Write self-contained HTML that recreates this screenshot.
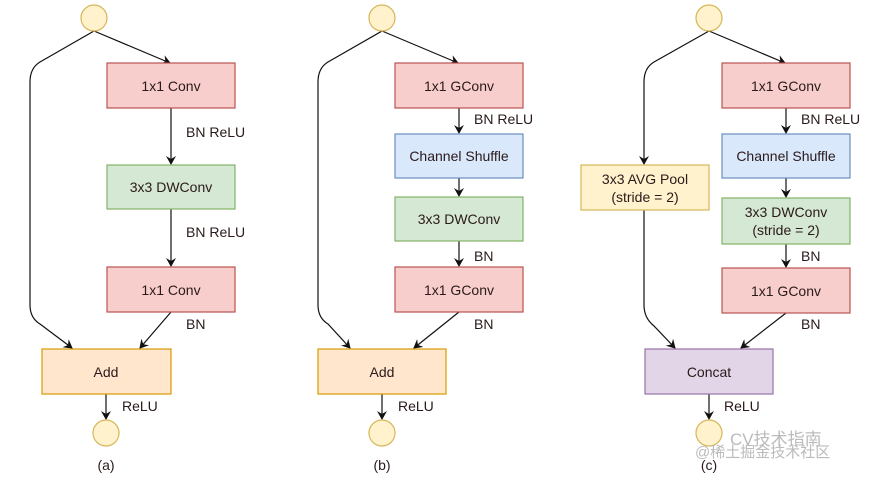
<!DOCTYPE html>
<html><head><meta charset="utf-8"><style>
html,body{margin:0;padding:0;background:#fff;width:871px;height:477px;overflow:hidden}
text{font-family:"Liberation Sans","Noto Sans CJK SC",sans-serif;font-size:14px;fill:#2a1a1a}
</style></head><body>
<svg width="871" height="477" viewBox="0 0 871 477" xmlns="http://www.w3.org/2000/svg">
<defs><marker id="ar" markerWidth="10" markerHeight="10" refX="8" refY="5" orient="auto" markerUnits="userSpaceOnUse"><path d="M0,0 L9,5 L0,10 L3,5 z" fill="#111"/></marker></defs>
<g stroke="#111" stroke-width="1.2" fill="none" marker-end="url(#ar)">
<!-- a -->
<path d="M94,31 L170,63"/>
<path d="M94,31 L40,62 Q30,68 30,82 L30,305 Q30,318 40,324 L72,348"/>
<path d="M171,108 L171,164"/>
<path d="M171,209 L171,266"/>
<path d="M171,312 L140,348"/>
<path d="M106,394 L106,419"/>
<!-- b -->
<path d="M382,31 L458,63"/>
<path d="M382,31 L328,62 Q318,68 318,82 L318,305 Q318,318 328,324 L350,348"/>
<path d="M459,108 L459,133"/>
<path d="M459,178 L459,196"/>
<path d="M459,241 L459,266"/>
<path d="M459,312 L414,348"/>
<path d="M382,394 L382,419"/>
<!-- c -->
<path d="M709,31 L785,63"/>
<path d="M709,31 L654,62 Q644,68 644,82 L644,164"/>
<path d="M644,210 L644,305 Q644,318 654,326 L675,348"/>
<path d="M786,108 L786,133"/>
<path d="M786,178 L786,197"/>
<path d="M786,244 L786,267"/>
<path d="M786,313 L741,348"/>
<path d="M709,394 L709,419"/>
</g>
<g stroke-width="1.2">
<circle cx="94" cy="18" r="13" fill="#fff2cc" stroke="#d6b656"/>
<circle cx="106" cy="433" r="13" fill="#fff2cc" stroke="#d6b656"/>
<circle cx="382" cy="18" r="13" fill="#fff2cc" stroke="#d6b656"/>
<circle cx="382" cy="433" r="13" fill="#fff2cc" stroke="#d6b656"/>
<circle cx="709" cy="18" r="13" fill="#fff2cc" stroke="#d6b656"/>
<circle cx="709" cy="433" r="13" fill="#fff2cc" stroke="#d6b656"/>
<rect x="107" y="63" width="128" height="45" fill="#f8cecc" stroke="#b85450"/>
<rect x="107" y="165" width="128" height="44" fill="#d5e8d4" stroke="#82b366"/>
<rect x="107" y="267" width="128" height="45" fill="#f8cecc" stroke="#b85450"/>
<rect x="42" y="349" width="129" height="45" fill="#ffe6cc" stroke="#d79b00"/>
<rect x="395" y="63" width="128" height="45" fill="#f8cecc" stroke="#b85450"/>
<rect x="395" y="134" width="128" height="44" fill="#dae8fc" stroke="#6c8ebf"/>
<rect x="395" y="197" width="128" height="44" fill="#d5e8d4" stroke="#82b366"/>
<rect x="395" y="267" width="128" height="45" fill="#f8cecc" stroke="#b85450"/>
<rect x="318" y="349" width="128" height="45" fill="#ffe6cc" stroke="#d79b00"/>
<rect x="722" y="63" width="128" height="45" fill="#f8cecc" stroke="#b85450"/>
<rect x="722" y="134" width="128" height="44" fill="#dae8fc" stroke="#6c8ebf"/>
<rect x="722" y="198" width="128" height="46" fill="#d5e8d4" stroke="#82b366"/>
<rect x="722" y="268" width="128" height="45" fill="#f8cecc" stroke="#b85450"/>
<rect x="581" y="165" width="128" height="45" fill="#fff2cc" stroke="#d6b656"/>
<rect x="645" y="349" width="128" height="45" fill="#e1d5e7" stroke="#9673a6"/>
</g>
<g text-anchor="middle">
<text x="171" y="91">1x1 Conv</text>
<text x="171" y="192">3x3 DWConv</text>
<text x="171" y="295">1x1 Conv</text>
<text x="106" y="377">Add</text>
<text x="106" y="470">(a)</text>
<text x="459" y="91">1x1 GConv</text>
<text x="459" y="161">Channel Shuffle</text>
<text x="459" y="224">3x3 DWConv</text>
<text x="459" y="295">1x1 GConv</text>
<text x="382" y="377">Add</text>
<text x="382" y="470">(b)</text>
<text x="786" y="91">1x1 GConv</text>
<text x="786" y="161">Channel Shuffle</text>
<text x="786" y="217">3x3 DWConv</text>
<text x="786" y="235">(stride = 2)</text>
<text x="786" y="296">1x1 GConv</text>
<text x="645" y="184">3x3 AVG Pool</text>
<text x="645" y="202">(stride = 2)</text>
<text x="709" y="377">Concat</text>
<text x="709" y="470">(c)</text>
</g>
<text x="186" y="137">BN ReLU</text>
<text x="186" y="237">BN ReLU</text>
<text x="186" y="329">BN</text>
<text x="122" y="411">ReLU</text>
<text x="474" y="124">BN ReLU</text>
<text x="474" y="261">BN</text>
<text x="474" y="329">BN</text>
<text x="398" y="411">ReLU</text>
<text x="801" y="124">BN ReLU</text>
<text x="801" y="261">BN</text>
<text x="801" y="329">BN</text>
<text x="724" y="411">ReLU</text>
<text x="730" y="445" style="font-size:17px;fill:#bbb">CV技术指南</text>
<text x="695" y="457" style="font-size:15px;fill:#bbb">@稀土掘金技术社区</text>
</svg>
</body></html>
